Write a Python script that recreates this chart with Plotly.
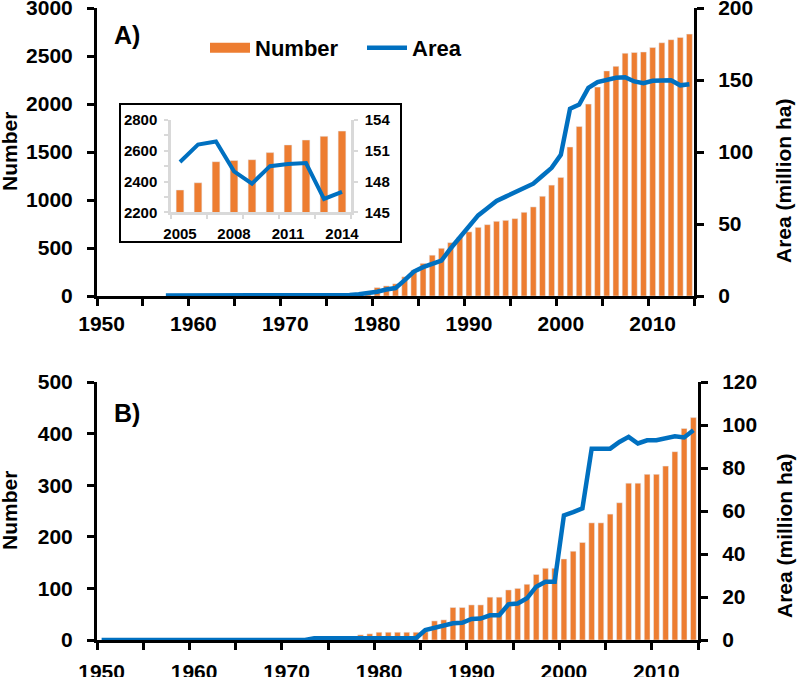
import plotly.graph_objects as go

# ---------------- data ----------------
num_years = list(range(1978, 2015))
number_a = [20, 45, 88, 105, 127, 200, 270, 340, 425, 497, 556, 615, 668, 715, 743, 778, 788, 806,
            872, 928, 1039, 1155, 1235, 1552, 1765, 1999, 2176, 2345, 2392, 2529, 2537, 2542,
            2588, 2638, 2670, 2694, 2728]
number_b = [10, 12, 15, 15, 15, 15, 15, 16, 37, 39, 63, 63, 68, 68, 83, 83, 97, 100,
            108, 127, 139, 139, 157, 172, 189, 227, 227, 244, 266, 304, 304, 321,
            321, 337, 365, 410, 431]

area_a_years = list(range(1957, 2015))
area_a = [0.3, 0.3, 0.3, 0.3, 0.3, 0.3, 0.3, 0.3,
          0.5, 0.5, 0.5, 0.5, 0.5, 0.5, 0.5, 0.5, 0.5, 0.5, 0.5, 0.5,
          0.7, 1.2, 2.0, 3.0, 4.5, 5.5, 11, 17, 20, 22, 24.5, 33, 41, 48, 56, 61, 66, 69,
          72, 75, 78, 83.5, 89, 98, 130, 133, 144.5, 148.5,
          149.9, 151.6, 151.9, 149.0, 147.8, 149.5, 149.7, 149.8, 146.3, 147.0]

area_b_years = list(range(1950, 2015))
area_b = [0, 0, 0, 0, 0, 0, 0, 0, 0, 0, 0, 0, 0, 0, 0, 0, 0, 0, 0, 0, 0, 0, 0,
          0.8, 0.8, 0.8, 0.8, 0.8, 0.8, 0.8, 0.8, 0.8, 0.8, 0.8, 0.8,
          4.6, 5.8, 6.5, 7.8, 8.0, 9.8, 10, 11.5, 11.5, 16.6, 17, 19.4, 24.8, 27.1, 27.1,
          58, 59.5, 61.2, 89, 89, 89, 92.1, 94.5, 91.4, 92.9, 92.9, 93.7, 94.8, 94.2, 97.6]

inset_years = list(range(2005, 2015))
inset_number = number_a[-10:]
inset_area = area_a[-10:]

main_xticks = [1950, 1960, 1970, 1980, 1990, 2000, 2010]
inset_xticks = [2005, 2008, 2011, 2014]

ORANGE = "#ED7D31"
BLUE = "#0070C0"
FONT = "Liberation Sans"
W, H = 800, 677


def px(x):
    return x / W


def py(y):
    return 1 - y / H


fig = go.Figure()

# legend proxy for Number
fig.add_trace(go.Scatter(x=[None], y=[None], mode="lines", name="Number", legend="legend",
                         line=dict(color=ORANGE, width=14), xaxis="x", yaxis="y"))
fig.add_trace(go.Bar(x=num_years, y=number_a, marker_color=ORANGE, width=0.64,
                     showlegend=False, xaxis="x", yaxis="y"))
fig.add_trace(go.Scatter(x=area_a_years, y=area_a, mode="lines", name="Area", legend="legend2",
                         line=dict(color=BLUE, width=4.5), xaxis="x", yaxis="y2"))

fig.add_trace(go.Bar(x=num_years, y=number_b, marker_color=ORANGE, width=0.62,
                     showlegend=False, xaxis="x2", yaxis="y3"))
fig.add_trace(go.Scatter(x=area_b_years, y=area_b, mode="lines", showlegend=False,
                         line=dict(color=BLUE, width=4.5), xaxis="x2", yaxis="y4"))

fig.add_trace(go.Bar(x=inset_years, y=inset_number, marker_color=ORANGE, width=0.43,
                     showlegend=False, xaxis="x3", yaxis="y5"))
fig.add_trace(go.Scatter(x=inset_years, y=inset_area, mode="lines", showlegend=False,
                         line=dict(color=BLUE, width=4), xaxis="x3", yaxis="y6"))

tf = dict(family=FONT, size=21, color="black", weight="bold")
tf_in = dict(family=FONT, size=15, color="black", weight="bold")


def main_x(standoff):
    return dict(range=[1949.5, 2014.5], tickmode="array", tickvals=main_xticks, ticks="",
                minor=dict(tick0=1949.5, dtick=5, ticks="outside", ticklen=7, tickwidth=2.5,
                           tickcolor="black"),
                showline=True, linecolor="black", linewidth=3, showgrid=False, zeroline=False,
                tickfont=tf, ticklabelstandoff=standoff, automargin=False,
                ticklabeloverflow="allow")


main_y = dict(ticks="outside", ticklen=7, tickwidth=2.5, tickcolor="black",
              showline=True, linecolor="black", linewidth=3, showgrid=False, zeroline=False,
              tickfont=tf, ticklabelstandoff=10, automargin=False, ticklabeloverflow="allow")
gray = "#D9D9D9"
in_y = dict(ticks="outside", ticklen=4, tickwidth=2, tickcolor=gray,
            showline=True, linecolor=gray, linewidth=2.5, showgrid=False, zeroline=False,
            tickfont=tf_in, ticklabelstandoff=4, automargin=False, ticklabeloverflow="allow")

leg_font = dict(family=FONT, size=22, color="black", weight="bold")

fig.update_layout(
    width=W, height=H, margin=dict(l=0, r=0, t=0, b=0, autoexpand=False),
    paper_bgcolor="white", plot_bgcolor="rgba(0,0,0,0)",
    barmode="overlay",
    xaxis=dict(domain=[px(97), px(694)], anchor="y", **main_x(7)),
    yaxis=dict(domain=[py(296), py(8)], anchor="x", range=[0, 3000], dtick=500, **main_y),
    yaxis2=dict(overlaying="y", side="right", anchor="x", range=[0, 200], dtick=50, **main_y),
    xaxis2=dict(domain=[px(97), px(698)], anchor="y3", **main_x(11)),
    yaxis3=dict(domain=[py(640), py(382)], anchor="x2", range=[0, 500], dtick=100, **main_y),
    yaxis4=dict(overlaying="y3", side="right", anchor="x2", range=[0, 120], dtick=20, **main_y),
    xaxis3=dict(domain=[px(171), px(351)], anchor="y5", range=[2004.5, 2014.5],
                tickmode="array", tickvals=inset_xticks, ticks="",
                minor=dict(tick0=2004.5, dtick=2, ticks="outside", ticklen=4, tickwidth=2,
                           tickcolor=gray),
                showline=True, linecolor=gray, linewidth=2.5, showgrid=False, zeroline=False,
                tickfont=tf_in, ticklabelstandoff=6, automargin=False,
                ticklabeloverflow="allow"),
    yaxis5=dict(domain=[py(212.3), py(120)], anchor="x3", range=[2200, 2800],
                tickmode="array", tickvals=[2200, 2400, 2600, 2800],
                minor=dict(dtick=100, ticks="outside", ticklen=4, tickwidth=2, tickcolor=gray),
                **in_y),
    yaxis6=dict(overlaying="y5", side="right", anchor="x3", range=[145, 154],
                tickmode="array", tickvals=[145, 148, 151, 154], **in_y),
    legend=dict(orientation="h", x=px(205), y=py(48), xanchor="left", yanchor="middle",
                font=leg_font, bgcolor="rgba(0,0,0,0)", itemwidth=40),
    legend2=dict(orientation="h", x=px(362), y=py(48), xanchor="left", yanchor="middle",
                 font=leg_font, bgcolor="rgba(0,0,0,0)", itemwidth=40),
    shapes=[dict(type="rect", xref="paper", yref="paper", x0=px(120), x1=px(401),
                 y0=py(242), y1=py(104), line=dict(color="black", width=2),
                 fillcolor="white", layer="below")],
    annotations=[
        dict(text="A)", x=px(112), y=py(35), xref="paper", yref="paper", showarrow=False,
             xanchor="left", yanchor="middle",
             font=dict(family=FONT, size=25, color="black", weight="bold")),
        dict(text="B)", x=px(112), y=py(413), xref="paper", yref="paper", showarrow=False,
             xanchor="left", yanchor="middle",
             font=dict(family=FONT, size=25, color="black", weight="bold")),
        dict(text="Number", x=px(10), y=py(152), xref="paper", yref="paper", showarrow=False,
             textangle=-90, xanchor="center", yanchor="middle", font=tf),
        dict(text="Number", x=px(10), y=py(511), xref="paper", yref="paper", showarrow=False,
             textangle=-90, xanchor="center", yanchor="middle", font=tf),
        dict(text="Area (million ha)", x=px(783), y=py(181), xref="paper", yref="paper",
             showarrow=False, textangle=-90, xanchor="center", yanchor="middle", font=tf),
        dict(text="Area (million ha)", x=px(784), y=py(536), xref="paper", yref="paper",
             showarrow=False, textangle=-90, xanchor="center", yanchor="middle", font=tf),
    ],
)

fig.write_html("out.html", config={"displayModeBar": False},
               post_script="document.body.style.margin='0px';document.body.style.padding='0px';")
